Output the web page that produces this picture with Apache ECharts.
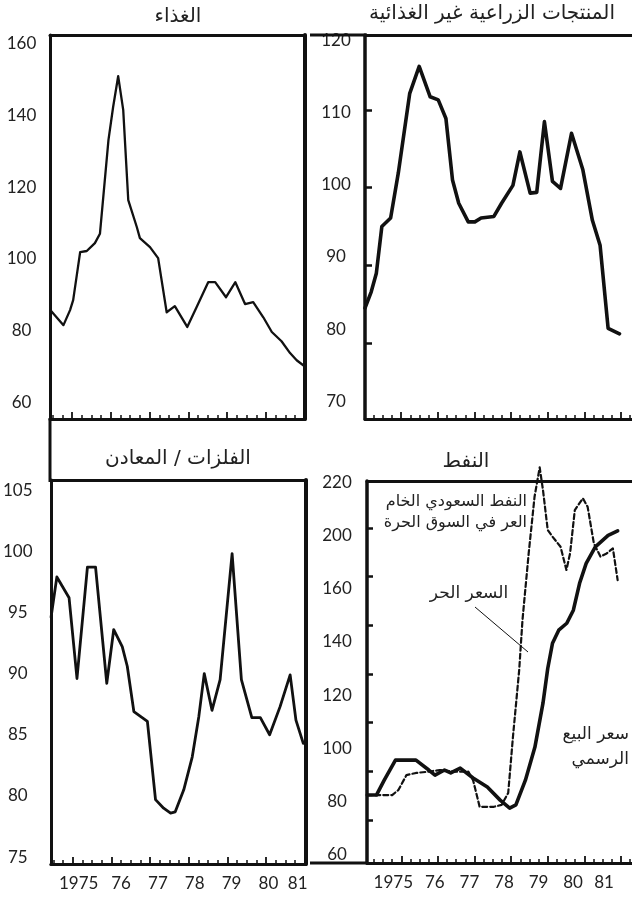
<!DOCTYPE html>
<html><head><meta charset="utf-8">
<script src="https://cdn.jsdelivr.net/npm/echarts@6/dist/echarts.min.js"></script>
<style>html,body{margin:0;padding:0;background:#fff}#c{width:632px;height:898px}</style>
</head><body><div id="c"></div>
<script>
// ---------- data ----------
const years = [1975, 1976, 1977, 1978, 1979, 1980, 1981];
const yearLabels = ['1975', '76', '77', '78', '79', '80', '81'];

const foodTickLabels = [60, 80, 100, 120, 140, 160];
const agriTickLabels = [70, 80, 90, 100, 110, 120];
const agriTickMarks = [80, 90, 100, 110];
const metalsTickLabels = [75, 80, 85, 90, 95, 100, 105];
const oilTickLabels = ['60', '80', '100', '120', '140', '160', '200', '220'];
const oilTickMarks = [1, 2, 3, 4, 5, 6, 7];

const titles = ['الغذاء', 'المنتجات الزراعية غير الغذائية', 'الفلزات / المعادن', 'النفط'];

const foodT = [1974.44,1974.78,1974.95,1975.03,1975.21,1975.38,1975.59,1975.72,1975.94,1976.06,1976.19,1976.32,1976.45,1976.67,1976.75,1977.01,1977.22,1977.44,1977.65,1977.97,1978.21,1978.51,1978.69,1978.97,1979.21,1979.46,1979.67,1979.93,1980.15,1980.40,1980.62,1980.79,1980.96];
const foodV = [85.7,81.5,85.7,88.5,101.9,102.2,104.4,107,133.2,142.4,151,141.6,116.4,108.9,105.8,103.3,100.2,85.1,86.8,81.0,86.5,93.5,93.5,89.3,93.5,87.4,87.9,83.7,79.6,77.0,73.7,71.7,70.3];

const agriT = [1974.01,1974.18,1974.32,1974.47,1974.71,1974.92,1975.23,1975.49,1975.79,1976.01,1976.22,1976.40,1976.57,1976.83,1977.01,1977.18,1977.53,1977.74,1978.05,1978.24,1978.52,1978.70,1978.91,1979.13,1979.35,1979.65,1979.96,1980.22,1980.43,1980.65,1980.96];
const agriV = [84.5,86.6,89.0,95.0,96.1,101.9,112.1,115.6,111.7,111.3,108.9,101,98,95.6,95.6,96.1,96.3,98,100.3,104.6,99.3,99.4,108.5,100.8,99.9,107,102.3,95.8,92.6,81.9,81.2];

const metalsT = [1974.44,1974.59,1974.905,1975.11,1975.38,1975.59,1975.88,1976.06,1976.28,1976.41,1976.58,1976.93,1977.14,1977.35,1977.53,1977.65,1977.87,1978.09,1978.26,1978.40,1978.60,1978.81,1979.12,1979.36,1979.63,1979.85,1980.09,1980.36,1980.62,1980.77,1980.96];
const metalsV = [94.6,97.9,96.2,89.6,98.7,98.7,89.2,93.6,92.2,90.6,86.9,86.1,79.7,79.0,78.6,78.7,80.5,83.2,86.5,90.0,87.0,89.5,99.8,89.5,86.4,86.4,85.0,87.3,89.9,86.2,84.3];

const oilOfficialT = [1974.07,1974.32,1974.53,1974.84,1975.40,1975.75,1975.92,1976.18,1976.35,1976.61,1976.96,1977.35,1977.70,1977.96,1978.13,1978.39,1978.65,1978.87,1979.00,1979.13,1979.30,1979.52,1979.70,1979.87,1980.05,1980.30,1980.65,1980.91];
const oilOfficialV = [82.5,82.5,88,95.6,95.6,91.9,90,91.9,90.8,92.6,88.9,85.5,80.6,77.6,78.8,88.1,100.5,117,130,139.5,144.4,147,151.9,164,179,191.4,200,201.7];

const oilFreeT = [1974.07,1974.75,1974.92,1975.14,1975.40,1975.75,1976.05,1976.48,1976.83,1976.96,1977.14,1977.53,1977.74,1977.92,1978.05,1978.22,1978.31,1978.48,1978.64,1978.78,1978.87,1979.00,1979.13,1979.35,1979.51,1979.61,1979.74,1979.96,1980.09,1980.26,1980.44,1980.61,1980.78,1980.91];
const oilFreeV = [82.5,82.5,84.4,90,90.8,91.3,91.9,91.3,91.3,88.1,78.1,78.1,78.8,83.3,104.4,129.4,148.2,186.6,214.5,225.5,217,202,199,191.4,174,186.4,209.5,213.9,210.7,194,184,186.4,190.2,166.4];

// ---------- helpers ----------
const INK = '#111';
const NUM_FONT = 'Lato, "DejaVu Sans", sans-serif';
const AR_FONT = '"DejaVu Sans", sans-serif';

// oil axis is not linear in its printed labels (160 -> 200 -> 220 evenly spaced)
function oilToAxis(d) {
  if (d <= 160) return d;
  if (d <= 200) return 160 + (d - 160) / 2;
  return 180 + (d - 200);
}
function oilLabel(u) {
  const i = Math.round((u - 60) / 20);
  return oilTickLabels[i] || '';
}
function quarters(from, to) {
  const out = [];
  for (let q = Math.ceil(from * 4); q <= Math.floor(to * 4); q++) {
    if (q % 4 !== 0) out.push(q / 4);
  }
  return out;
}
const pairs = (t, v, f) => t.map((x, i) => [x, f ? f(v[i]) : v[i]]);

const grids = [
  { left: 50, top: 35, width: 255, height: 384 },   // food
  { left: 365, top: 35, width: 280, height: 384 },  // agri
  { left: 50, top: 480, width: 256, height: 384 },  // metals
  { left: 367, top: 481, width: 278, height: 382 }  // oil
];
const xr = [
  [1974.433, 1981.005],
  [1974.010, 1981.302],
  [1974.433, 1981.03],
  [1974.0625, 1981.302]
];
const xl = { 2: [1974.093, 1981.021], 3: [1974.037, 1981.706] };

const labelText = { color: '#222', fontSize: 17, fontFamily: NUM_FONT };
const yearRich = {
  2: { first: Object.assign({ padding: [0, 11, 0, 0] }, labelText), last: Object.assign({ padding: [0, 15, 0, 0] }, labelText), n: labelText },
  3: { first: Object.assign({ padding: [0, 14, 0, 0] }, labelText), last: Object.assign({ padding: [0, 7, 0, 0] }, labelText), n: labelText }
};

const xAxis = [];
const yAxis = [];
const dataX = {};
const dataY = {};
const noSplit = { show: false };

grids.forEach((g, gi) => {
  const [mn, mx] = xr[gi];
  dataX[gi] = xAxis.length;
  xAxis.push({
    gridIndex: gi, type: 'value', position: 'bottom', min: mn, max: mx,
    axisLine: { show: true, onZero: false, lineStyle: { color: INK, width: 3 } },
    axisTick: { show: true, inside: true, length: 4, customValues: quarters(mn, mx), lineStyle: { color: INK, width: 1.5 } },
    axisLabel: { show: false }, splitLine: noSplit
  });
  xAxis.push({
    gridIndex: gi, type: 'value', position: 'bottom', min: mn, max: mx,
    axisLine: { show: false, onZero: false },
    axisTick: { show: true, inside: true, length: 7, customValues: years.filter(y => y > mn && y < mx - 0.01), lineStyle: { color: INK, width: 1.8 } },
    axisLabel: { show: false }, splitLine: noSplit
  });
  xAxis.push({
    gridIndex: gi, type: 'value', position: 'top', min: mn, max: mx,
    axisLine: { show: true, onZero: false, lineStyle: { color: INK, width: 3 } },
    axisTick: { show: false }, axisLabel: { show: false }, splitLine: noSplit
  });
  if (xl[gi]) {
    xAxis.push({
      gridIndex: gi, type: 'value', position: 'bottom', min: xl[gi][0], max: xl[gi][1],
      axisLine: { show: false, onZero: false }, axisTick: { show: false }, splitLine: noSplit,
      axisLabel: Object.assign({
        show: true, customValues: years, margin: 11,
        formatter: v => {
          const i = years.indexOf(Math.round(v));
          if (i < 0) return '';
          const key = i === 0 ? 'first' : (i === years.length - 1 ? 'last' : 'n');
          return '{' + key + '|' + yearLabels[i] + '}';
        },
        rich: yearRich[gi]
      }, labelText)
    });
  }
});

function labelCfg(values, margin, fmt) {
  return Object.assign({
    show: true, customValues: values, margin: margin, align: 'center',
    formatter: fmt || (v => String(Math.round(v)))
  }, labelText);
}
// food
dataY[0] = yAxis.length;
yAxis.push({ gridIndex: 0, type: 'value', position: 'left', min: 55.3, max: 162.5,
  axisLine: { show: true, onZero: false, lineStyle: { color: INK, width: 3 } }, axisTick: { show: false },
  axisLabel: labelCfg(foodTickLabels, 28.5), splitLine: noSplit });
yAxis.push({ gridIndex: 0, type: 'value', position: 'right', min: 55.3, max: 162.5,
  axisLine: { show: true, onZero: false, lineStyle: { color: INK, width: 4 } }, axisTick: { show: false },
  axisLabel: { show: false }, splitLine: noSplit });
// agri
dataY[1] = yAxis.length;
yAxis.push({ gridIndex: 1, type: 'value', position: 'left', min: 70.23, max: 119.65,
  axisLine: { show: true, onZero: false, lineStyle: { color: INK, width: 3.5 } },
  axisTick: { show: true, inside: true, length: 7, customValues: agriTickMarks, lineStyle: { color: INK, width: 2.5 } },
  axisLabel: { show: false }, splitLine: noSplit });
yAxis.push({ gridIndex: 1, type: 'value', position: 'left', min: 67.6, max: 120.7,
  axisLine: { show: false, onZero: false }, axisTick: { show: false },
  axisLabel: labelCfg(agriTickLabels, 29), splitLine: noSplit });
// metals
dataY[2] = yAxis.length;
yAxis.push({ gridIndex: 2, type: 'value', position: 'left', min: 74.44, max: 105.82,
  axisLine: { show: true, onZero: false, lineStyle: { color: INK, width: 3 } }, axisTick: { show: false },
  axisLabel: labelCfg(metalsTickLabels, 33), splitLine: noSplit });
yAxis.push({ gridIndex: 2, type: 'value', position: 'right', min: 74.44, max: 105.82,
  axisLine: { show: true, onZero: false, lineStyle: { color: INK, width: 4 } }, axisTick: { show: false },
  axisLabel: { show: false }, splitLine: noSplit });
// oil
dataY[3] = yAxis.length;
yAxis.push({ gridIndex: 3, type: 'value', position: 'left', min: 57.0, max: 200.4,
  axisLine: { show: true, onZero: false, lineStyle: { color: INK, width: 3.5 } }, axisTick: { show: false },
  axisLabel: labelCfg([60, 80, 100, 120, 140, 160, 180, 200], 30, oilLabel), splitLine: noSplit });
yAxis.push({ gridIndex: 3, type: 'value', position: 'left', min: 0.119, max: 7.96,
  axisLine: { show: false, onZero: false },
  axisTick: { show: true, inside: true, length: 6, customValues: oilTickMarks, lineStyle: { color: INK, width: 2.5 } },
  axisLabel: { show: false }, splitLine: noSplit });

function lineSeries(gi, data, width, dash, clip) {
  return {
    type: 'line', xAxisIndex: dataX[gi], yAxisIndex: dataY[gi], data: data,
    symbol: 'none', showSymbol: false, smooth: false, clip: clip !== false,
    lineStyle: { color: INK, width: width, type: dash || 'solid', join: 'round', cap: 'round' },
    z: 5
  };
}
const series = [
  lineSeries(0, pairs(foodT, foodV), 2.3),
  lineSeries(1, pairs(agriT, agriV), 3.6),
  lineSeries(2, pairs(metalsT, metalsV), 2.8),
  lineSeries(3, pairs(oilOfficialT, oilOfficialV, oilToAxis), 3.6),
  lineSeries(3, pairs(oilFreeT, oilFreeV, oilToAxis), 2.2, [5, 3], false)
];

function txt(text, x, y, size, align) {
  return { type: 'text', z: 10, style: {
    text: text, x: x, y: y, fill: '#222', font: size + 'px ' + AR_FONT,
    align: align || 'center', textAlign: align || 'center',
    verticalAlign: 'middle', textVerticalAlign: 'middle' } };
}
function ln(x1, y1, x2, y2, w) {
  return { type: 'line', z: 4, shape: { x1, y1, x2, y2 }, style: { stroke: INK, lineWidth: w } };
}
const graphic = [
  txt(titles[0], 178, 17, 20),
  txt(titles[1], 492, 14, 20),
  txt(titles[2], 178, 459, 20),
  txt(titles[3], 466, 462, 20),
  txt('النفط السعودي الخام', 527, 502, 16, 'right'),
  txt('العر في السوق الحرة', 527, 523, 16, 'right'),
  txt('السعر الحر', 469, 594, 17),
  txt('سعر البيع', 629, 735, 17, 'right'),
  txt('الرسمي', 629, 760, 17, 'right'),
  ln(475, 607, 528, 652, 1),
  ln(50, 418, 50, 482, 3),
  ln(310, 35, 367, 35, 3),
  ln(310, 863, 368, 863, 3)
];

const chart = echarts.init(document.getElementById('c'), null, { renderer: 'canvas' });
chart.setOption({
  animation: false,
  backgroundColor: '#fff',
  grid: grids,
  xAxis: xAxis,
  yAxis: yAxis,
  series: series,
  graphic: graphic
});
</script>
</body></html>
